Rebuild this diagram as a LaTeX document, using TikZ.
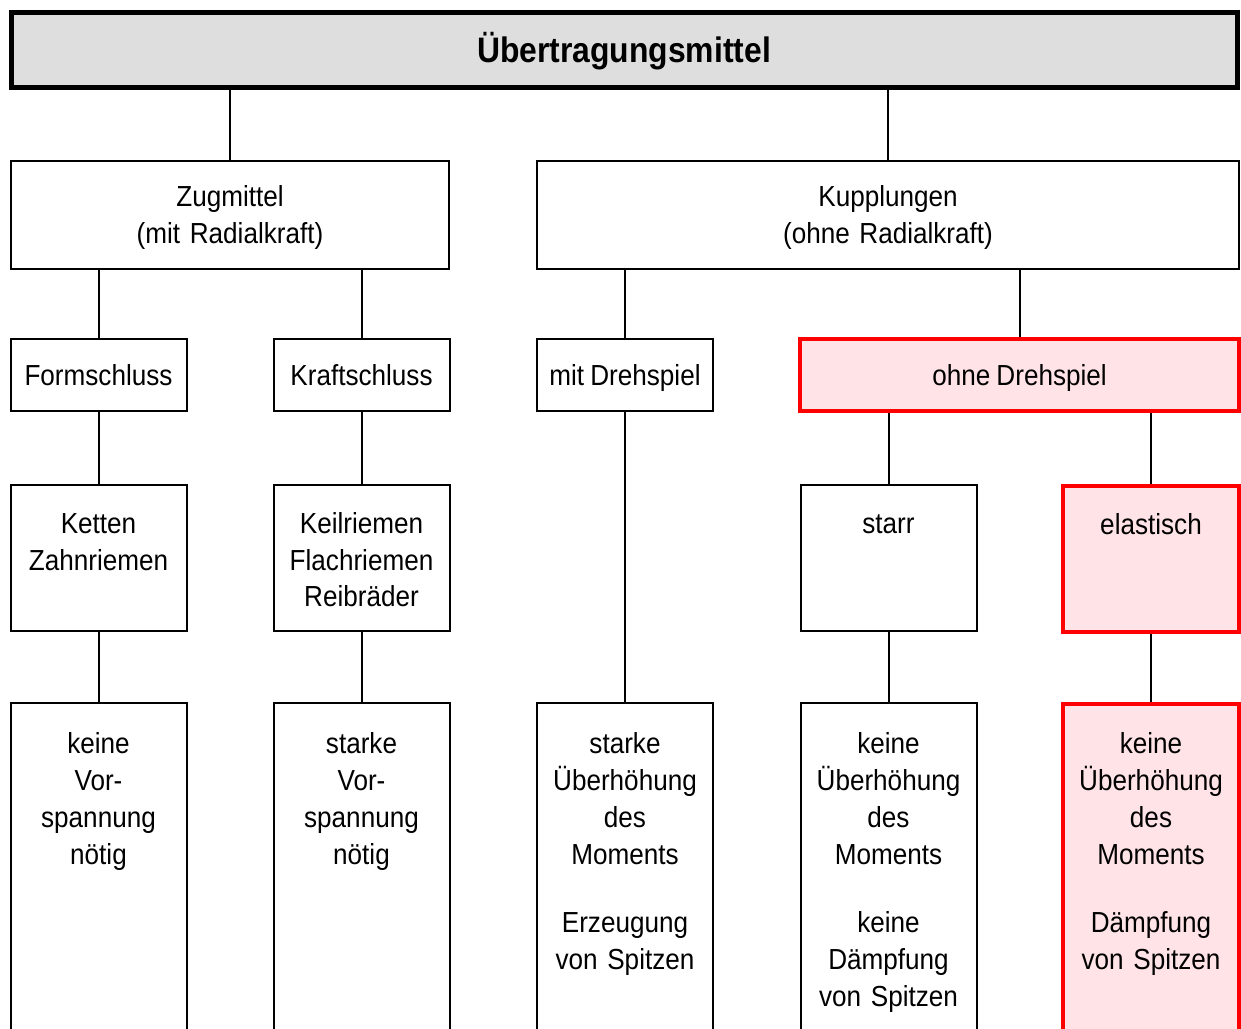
\documentclass[tikz,border=0pt]{standalone}
\usepackage{fontspec}
\setmainfont[FakeStretch=0.9,WordSpace=0.85]{Liberation Sans}
\definecolor{hlred}{HTML}{FF0000}
\definecolor{hlfill}{HTML}{FFE3E6}
\definecolor{titlefill}{HTML}{DEDEDE}

\begin{document}
\begin{tikzpicture}[
  x=0.5pt,y=-0.5pt,
  box/.style={
    draw=black,line width=1pt,fill=white,
    minimum width=88pt,align=center,inner sep=0pt,
    font=\fontsize{14.5}{18.5}\selectfont
  },
  title/.style={box,fill=titlefill,line width=2.5pt,
    minimum width=613pt,minimum height=37.5pt,
    text height=13pt,text depth=0pt,
    font=\bfseries\fontsize{17.7}{20}\selectfont},
  short/.style={minimum height=36pt,text height=10pt,text depth=0pt},
  tall/.style={anchor=north,text width=84pt,inner ysep=#1,
    text height=10.4pt},
  hl/.style={draw=hlred,line width=2pt,fill=hlfill},
  link/.style={draw=black,line width=1pt}
]
\clip (0,0) rectangle (1241,1028);

\node[title] (title) at (624,49.5) {Übertragungsmittel};

\node[box,tall=12.4pt,text depth=18.8pt,text width=200pt,
  minimum width=219pt] (zug) at (230,160)
  {Zugmittel\\(mit Radialkraft)};
\node[box,tall=12.4pt,text depth=18.8pt,text width=300pt,
  minimum width=351pt] (kupp) at (888,160)
  {Kupplungen\\(ohne Radialkraft)};

\node[box,short] (form) at (98.5,375) {Formschluss};
\node[box,short] (kraft) at (361.5,375) {Kraftschluss};
\node[box,short] (mitds) at (625,375) {mit Drehspiel};
\node[box,short,hl,minimum width=219.5pt] (ohneds) at (1019.5,375)
  {ohne Drehspiel};

% middle row, text at the top of each box
\node[box,tall=13.85pt,text depth=35pt] (ketten) at (98.5,484)
  {Ketten\\Zahnriemen};
\node[box,tall=13.85pt,text depth=35pt,
  font=\fontsize{14.5}{18.25}\selectfont] (keil) at (361.5,484)
  {Keilriemen\\Flachriemen\\Reibräder};
\node[box,tall=13.85pt,text depth=35pt] (starr) at (888.5,484) {starr};
\node[box,hl,tall=13.85pt,text depth=35pt] (elast) at (1151,484)
  {elastisch};

% bottom row, runs off the lower edge
\node[box,tall=14.85pt,text depth=140pt] (formprop) at (98.5,702)
  {keine\\Vor-\\spannung\\nötig};
\node[box,tall=14.85pt,text depth=140pt] (kraftprop) at (361.5,702)
  {starke\\Vor-\\spannung\\nötig};
\node[box,tall=14.85pt,text depth=140pt] (mitprop) at (625,702)
  {starke\\Überhöhung\\des\\Moments\\[15.5pt]Erzeugung\\von Spitzen};
\node[box,tall=14.85pt,text depth=140pt] (starrprop) at (888.5,702)
  {keine\\Überhöhung\\des\\Moments\\[15.5pt]keine\\Dämpfung\\von Spitzen};
\node[box,hl,line width=2.2pt,tall=14.35pt,text depth=140pt] (elastprop)
  at (1151,702)
  {keine\\Überhöhung\\des\\Moments\\[15.5pt]Dämpfung\\von Spitzen};

\draw[link] (zug.north) -- (zug.north |- title.south);
\draw[link] (kupp.north) -- (kupp.north |- title.south);
\draw[link] (form.north) -- (form.north |- zug.south);
\draw[link] (kraft.north) -- (kraft.north |- zug.south);
\draw[link] (mitds.north) -- (mitds.north |- kupp.south);
\draw[link] (ohneds.north) -- (ohneds.north |- kupp.south);
\draw[link] (form) -- (ketten);
\draw[link] (kraft) -- (keil);
\draw[link] (starr.north) -- (starr.north |- ohneds.south);
\draw[link] (elast.north) -- (elast.north |- ohneds.south);
\draw[link] (ketten) -- (formprop);
\draw[link] (keil) -- (kraftprop);
\draw[link] (mitds) -- (mitprop);
\draw[link] (starr) -- (starrprop);
\draw[link] (elast) -- (elastprop);

\end{tikzpicture}
\end{document}
